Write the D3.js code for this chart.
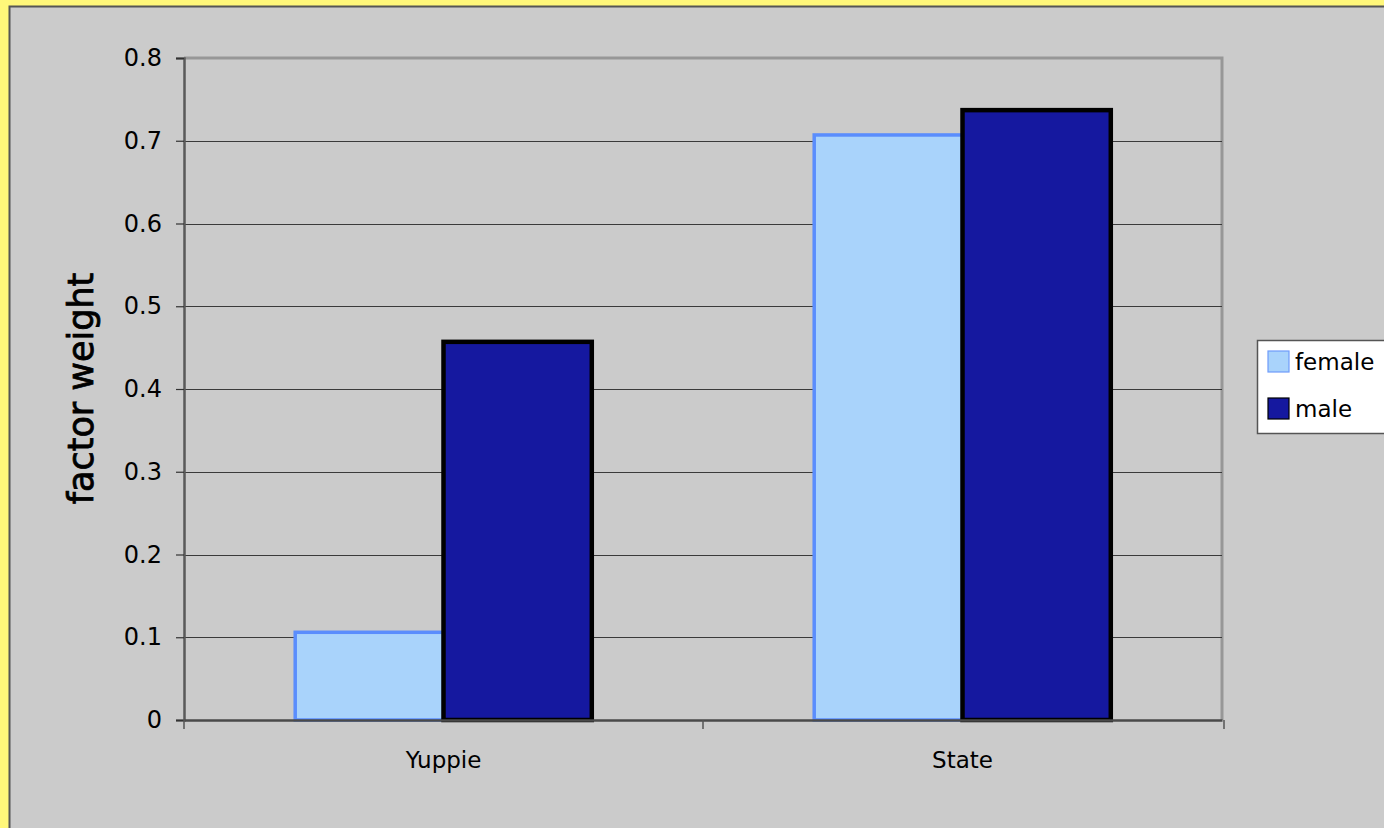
<!DOCTYPE html>
<html>
<head>
<meta charset="utf-8">
<script src="https://cdn.jsdelivr.net/npm/d3@7/dist/d3.min.js"></script>
<style>
  html, body { margin: 0; padding: 0; background: #fff77a; }
  svg { display: block; }
  text { font-family: "DejaVu Sans", Verdana, sans-serif; fill: #000; }
</style>
</head>
<body>
<svg id="chart" width="1384" height="828"></svg>
<script>
// Factor weights by group and sex
const categories = ["Yuppie", "State"];
const seriesNames = ["female", "male"];
const femaleValues = [0.106, 0.707];
const maleValues = [0.457, 0.737];
const yTicks = [0, 0.1, 0.2, 0.3, 0.4, 0.5, 0.6, 0.7, 0.8];
const yTitle = "factor weight";

const W = 1384, H = 828;
const svg = d3.select("#chart");

// chart background panel (yellow frame shows on left and top)
svg.append("rect").attr("x", 0).attr("y", 0).attr("width", W).attr("height", H).attr("fill", "#fff77a");
svg.append("rect").attr("x", 9.5).attr("y", 6.5).attr("width", W).attr("height", H)
  .attr("fill", "#cbcbcb").attr("stroke", "#555").attr("stroke-width", 2);

const plot = { left: 184, right: 1222, top: 58, bottom: 720 };

const x = d3.scaleBand().domain(categories).range([plot.left, plot.right]).paddingInner(0).paddingOuter(0);
const y = d3.scaleLinear().domain([0, 0.8]).range([plot.bottom, plot.top]);
const barW = x.bandwidth() / 3.5; // Excel style gap width 150%
const sub = d3.scaleBand().domain(seriesNames).range([0, barW * 2]);

const colors = {
  female: { fill: "#a9d3fb", stroke: "#5a8dfd", sw: 3.5 },
  male:   { fill: "#15189f", stroke: "#000000", sw: 4.5 }
};

// plot area frame: top and right edges
svg.append("path")
  .attr("d", `M${plot.left},${plot.top} H${plot.right} V${plot.bottom}`)
  .attr("fill", "none").attr("stroke", "#979797").attr("stroke-width", 3);

// gridlines
svg.append("g").selectAll("line").data(yTicks.filter(d => d > 0 && d < 0.8)).join("line")
  .attr("x1", plot.left).attr("x2", plot.right)
  .attr("y1", d => Math.round(y(d)) + 0.5).attr("y2", d => Math.round(y(d)) + 0.5)
  .attr("stroke", "#3a3a3a").attr("stroke-width", 1);

// bars
const data = categories.map((c, i) => ({ cat: c, vals: [
  { key: "female", v: femaleValues[i] },
  { key: "male", v: maleValues[i] }
]}));

const groups = svg.append("g").selectAll("g").data(data).join("g")
  .attr("transform", d => `translate(${x(d.cat) + x.bandwidth() / 2 - barW},0)`);

groups.selectAll("rect").data(d => d.vals).join("rect")
  .attr("x", d => sub(d.key))
  .attr("width", sub.bandwidth())
  .attr("y", d => y(d.v))
  .attr("height", d => y(0) - y(d.v))
  .attr("fill", d => colors[d.key].fill)
  .attr("stroke", d => colors[d.key].stroke)
  .attr("stroke-width", d => colors[d.key].sw);

// y axis
const yAxis = d3.axisLeft(y).tickValues(yTicks).tickSize(8).tickPadding(14)
  .tickFormat(d => d === 0 ? "0" : d3.format(".1f")(d));
const gy = svg.append("g").attr("transform", `translate(${plot.left},0)`).call(yAxis);
gy.select(".domain").attr("stroke", "#5a5a5a").attr("stroke-width", 2.5);
gy.selectAll(".tick line").attr("stroke", "#333").attr("stroke-width", 1.2);
gy.selectAll(".tick text").attr("font-size", 24).attr("font-family", "DejaVu Sans, sans-serif").attr("fill", "#000");

// x axis
const xAxis = d3.axisBottom(x).tickSize(0).tickPadding(32);
const gx = svg.append("g").attr("transform", `translate(0,${plot.bottom})`).call(xAxis);
gx.select(".domain").attr("stroke", "#4a4a4a").attr("stroke-width", 2.5);
gx.selectAll(".tick text").attr("font-size", 23).attr("font-family", "DejaVu Sans, sans-serif").attr("fill", "#000");
// boundary ticks between categories
const bounds = [plot.left, x("State"), plot.right + 2];
gx.append("g").selectAll("line").data(bounds).join("line")
  .attr("x1", d => d).attr("x2", d => d).attr("y1", 0).attr("y2", 9)
  .attr("stroke", "#555").attr("stroke-width", 1.5);

// y axis title
svg.append("text")
  .attr("transform", `translate(93,${(272 + 505) / 2}) rotate(-90)`)
  .attr("text-anchor", "middle")
  .attr("font-size", 35)
  .attr("stroke", "#000").attr("stroke-width", 0.8)
  .text(yTitle);

// legend
const lg = svg.append("g").attr("transform", "translate(1257,340)");
lg.append("rect").attr("x", 0.5).attr("y", 0.5).attr("width", 140).attr("height", 93)
  .attr("fill", "#fff").attr("stroke", "#555").attr("stroke-width", 1.5);
const items = lg.selectAll("g").data(seriesNames).join("g")
  .attr("transform", (d, i) => `translate(11,${11 + i * 47})`);
items.append("rect").attr("width", 21).attr("height", 21)
  .attr("fill", d => colors[d].fill)
  .attr("stroke", d => d === "female" ? "#6f9cfb" : "#000").attr("stroke-width", 1.2);
items.append("text").attr("x", 27).attr("y", 11).attr("dy", "0.35em")
  .attr("font-size", 23).text(d => d);
</script>
</body>
</html>
